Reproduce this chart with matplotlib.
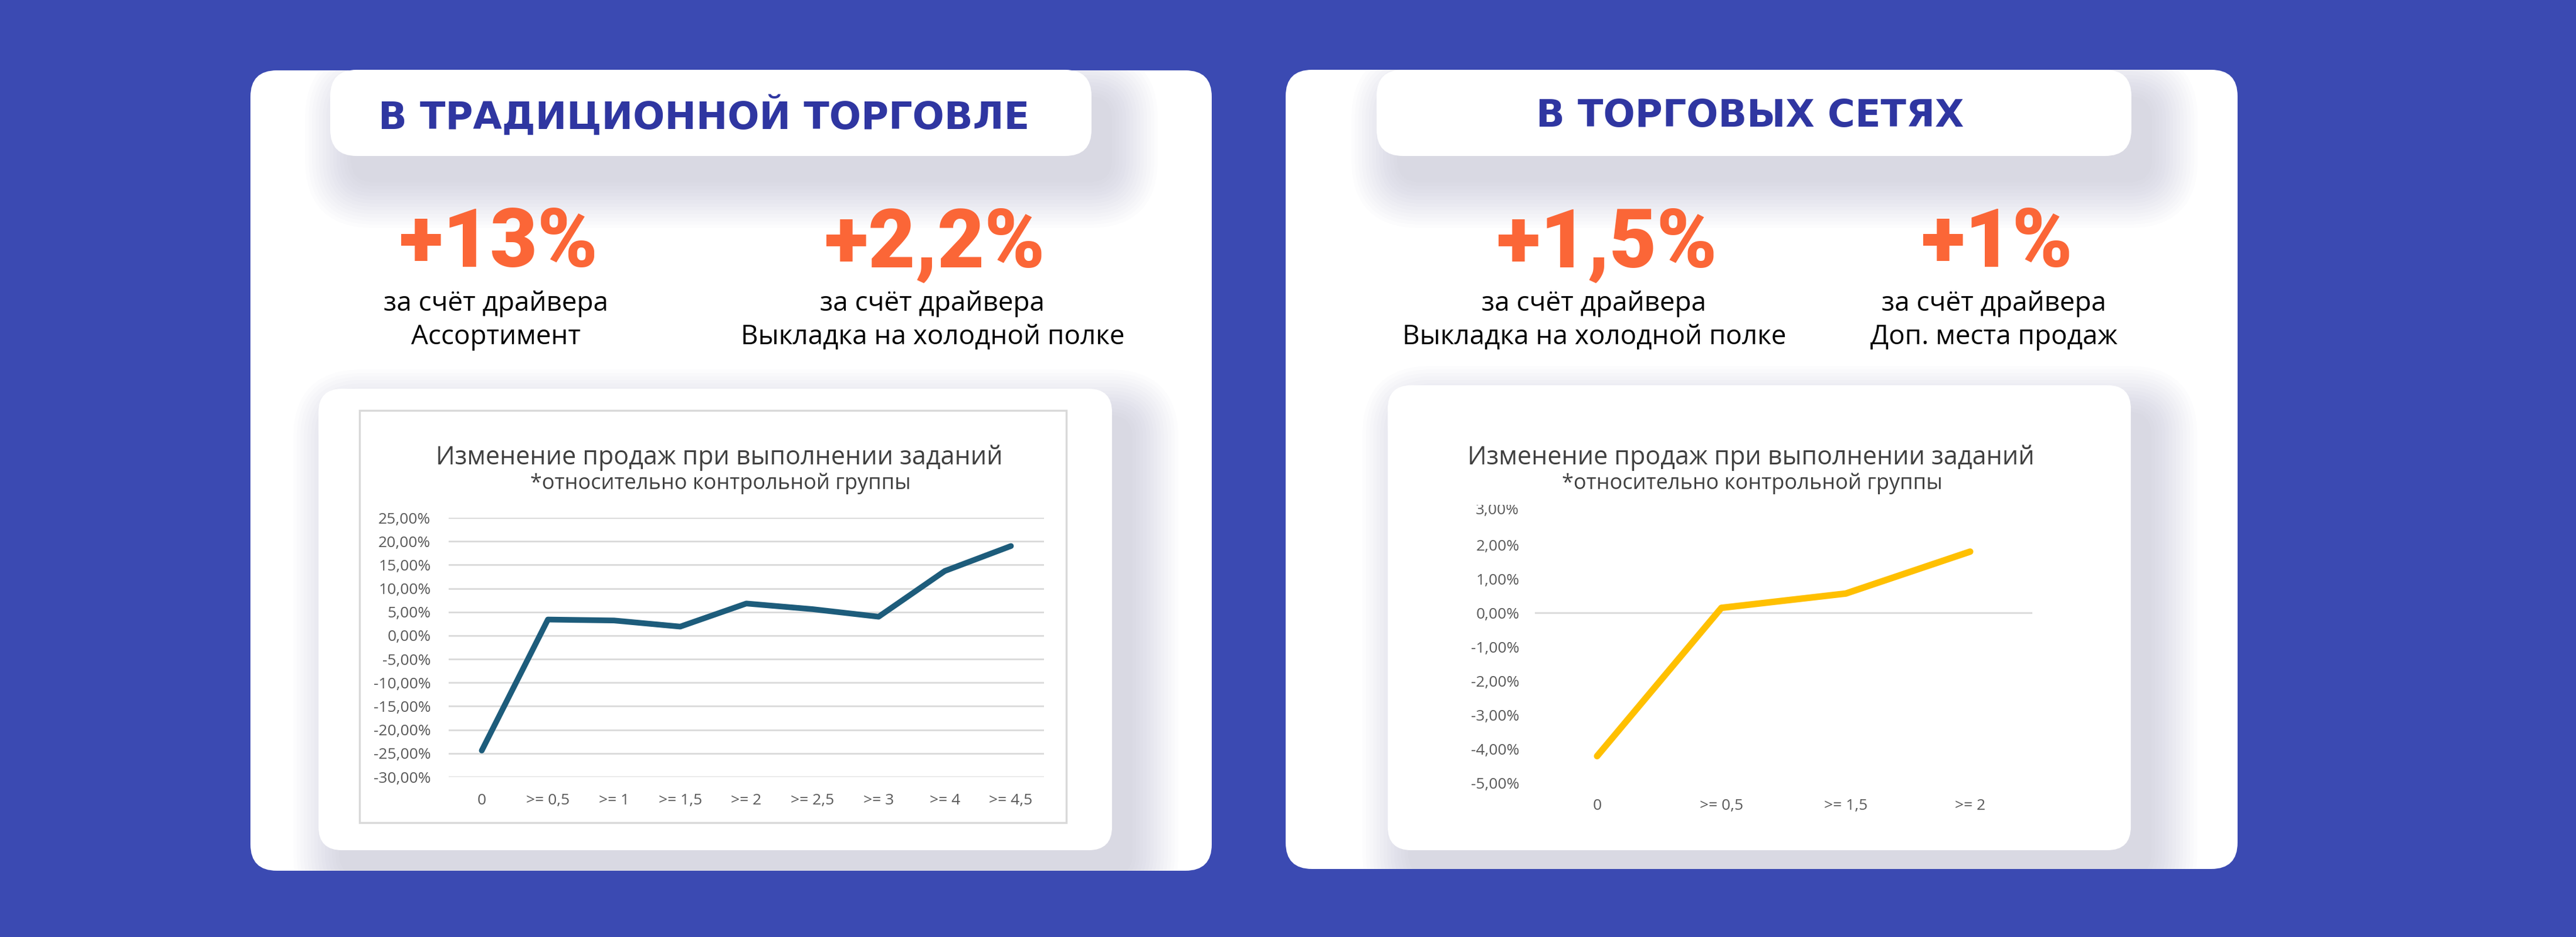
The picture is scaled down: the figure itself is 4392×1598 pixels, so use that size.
import matplotlib
matplotlib.use('Agg')
import matplotlib.pyplot as plt
from matplotlib.patches import FancyBboxPatch
from matplotlib.transforms import Bbox, TransformedBbox, blended_transform_factory

W, H = 4392, 1598

# Данные графиков
left_labels = ['0', '>= 0,5', '>= 1', '>= 1,5', '>= 2', '>= 2,5', '>= 3', '>= 4', '>= 4,5']
left_values = [-24.4, 3.4, 3.2, 1.9, 6.8, 5.6, 4.0, 13.7, 19.0]
left_yticks = [-30, -25, -20, -15, -10, -5, 0, 5, 10, 15, 20, 25]

right_labels = ['0', '>= 0,5', '>= 1,5', '>= 2']
right_values = [-4.2, 0.15, 0.57, 1.8]
right_yticks = [-5, -4, -3, -2, -1, 0, 1, 2, 3]

panel_titles = ['В ТРАДИЦИОННОЙ ТОРГОВЛЕ', 'В ТОРГОВЫХ СЕТЯХ']
big_numbers = ['+13%', '+2,2%', '+1,5%', '+1%']
drivers = ['Ассортимент', 'Выкладка на холодной полке',
           'Выкладка на холодной полке', 'Доп. места продаж']

chart_title = 'Изменение продаж при выполнении заданий'
chart_subtitle = '*относительно контрольной группы'

BG = '#3B4AB2'
BLUE_TXT = '#2F36A1'
ORANGE = '#FB6637'
GRAY_TXT = '#595959'
GRID = '#D9D9D9'

fig = plt.figure(figsize=(W / 100, H / 100), dpi=100, facecolor=BG)
bg = fig.add_axes([0, 0, 1, 1])
bg.set_xlim(0, W)
bg.set_ylim(H, 0)
bg.axis('off')


def rbox(x0, y0, x1, y1, color, r=40, z=1, alpha=1.0):
    p = FancyBboxPatch((x0, y0), x1 - x0, y1 - y0,
                       boxstyle=f'round,pad=0,rounding_size={r}',
                       fc=color, ec='none', alpha=alpha, zorder=z)
    bg.add_patch(p)
    return p


def shadow(x0, y0, x1, y1, clip, z=2):
    # мягкая тень вправо-вниз, обрезанная по панели
    for i in range(14):
        g = i * 6
        p = rbox(x0 - g + 35, y0 - g + 45, x1 + g + 35, y1 + g + 45,
                 '#8c8cb0', r=40 + g, z=z, alpha=0.022)
        p.set_clip_path(clip)


# большие панели
panel_l = rbox(427, 120, 2066, 1485, 'white', r=45, z=1)
panel_r = rbox(2192, 119, 3815, 1482, 'white', r=45, z=1)

# плашки заголовков
for (x0, x1), pan in zip([(563, 1861), (2347, 3634)], [panel_l, panel_r]):
    shadow(x0, 119, x1, 266, pan)
    rbox(x0, 119, x1, 266, 'white', r=45, z=3)

# карточки графиков
for (x0, y0, x1), pan in zip([(543, 663, 1896), (2366, 657, 3633)], [panel_l, panel_r]):
    shadow(x0, y0, x1, 1450, pan)
    rbox(x0, y0, x1, 1450, 'white', r=40, z=3)

# рамка графика Excel (левый)
bg.add_patch(plt.Rectangle((613, 700), 1818 - 613, 1403 - 700, fc='white',
                           ec=GRID, lw=2.5, zorder=4))

# заголовки
bg.text(1200, 198, panel_titles[0], ha='center', va='center', fontsize=46,
        fontweight='heavy', color=BLUE_TXT, family='DejaVu Sans', zorder=5)
bg.text(2984, 198, panel_titles[1], ha='center', va='center', fontsize=46,
        fontweight='heavy', color=BLUE_TXT, family='DejaVu Sans', zorder=5)

num_x = [850, 1594, 2740, 3405]
sub_x = [846, 1590, 2718, 3400]
for nx, sx, num, drv in zip(num_x, sub_x, big_numbers, drivers):
    bg.text(nx, 455, num, ha='center', va='baseline', fontsize=100,
            fontweight='black', color=ORANGE, family='Roboto', zorder=5)
    bg.text(sx, 530, 'за счёт драйвера', ha='center', va='baseline',
            fontsize=33, color='black', family='Open Sans', zorder=5)
    bg.text(sx, 587, drv, ha='center', va='baseline',
            fontsize=33, color='black', family='Open Sans', zorder=5)

# заголовки графиков
for cx in [1226, 2985]:
    bg.text(cx, 781, chart_title, ha='center', va='center', fontsize=31,
            color='#404040', family='Open Sans', zorder=5)
    bg.text(cx + 2, 825, chart_subtitle, ha='center', va='center', fontsize=26,
            color='#404040', family='Open Sans', zorder=5)


def pct(v):
    return f'{v:.2f}%'.replace('.', ',')


def style_axis(ax, labels, ypad, xpad):
    ax.set_facecolor('none')
    for s in ax.spines.values():
        s.set_visible(False)
    ax.set_xticks(range(len(labels)))
    ax.set_xticklabels(labels)
    ax.set_xlim(-0.5, len(labels) - 0.5)
    ax.tick_params(axis='both', length=0, labelsize=19, labelcolor=GRAY_TXT)
    ax.tick_params(axis='y', pad=ypad)
    ax.tick_params(axis='x', pad=xpad)
    for lab in ax.get_xticklabels() + ax.get_yticklabels():
        lab.set_family('Open Sans')


# левый график
ax1 = fig.add_axes([765 / W, 1 - 1325 / H, (1780 - 765) / W, (1325 - 883) / H], zorder=6)
ax1.plot(range(len(left_values)), left_values, color='#1D5C7B', lw=7,
         solid_joinstyle='round', solid_capstyle='round', zorder=3)
ax1.set_ylim(left_yticks[0], left_yticks[-1])
ax1.set_yticks(left_yticks)
ax1.set_yticklabels([pct(v) for v in left_yticks])
ax1.grid(axis='y', color=GRID, lw=2)
ax1.set_axisbelow(True)
style_axis(ax1, left_labels, 22, 20)

# правый график
ax2 = fig.add_axes([2617 / W, 1 - 1336 / H, (3465 - 2617) / W, (1336 - 871) / H], zorder=6)
ax2.axhline(0, color=GRID, lw=2, zorder=1)
ax2.plot(range(len(right_values)), right_values, color='#FFC000', lw=8,
         solid_joinstyle='round', solid_capstyle='round', zorder=3)
ax2.set_ylim(right_yticks[0], right_yticks[-1])
ax2.set_yticks(right_yticks[:-1])
ax2.set_yticklabels([pct(v) for v in right_yticks[:-1]])
style_axis(ax2, right_labels, 19, 19)

# верхняя подпись обрезана краем области графика, как в Excel
top_tr = blended_transform_factory(ax2.transAxes, ax2.transData)
top_lab = ax2.text(-27 / (3465 - 2617), right_yticks[-1], pct(right_yticks[-1]),
                   transform=top_tr, ha='right', va='center', fontsize=19,
                   color=GRAY_TXT, family='Open Sans', clip_on=True)
top_lab.set_clip_box(TransformedBbox(Bbox([[0, 0], [1, 1 - 861 / H]]), fig.transFigure))

fig.savefig('out.png', dpi=100, facecolor=BG)
